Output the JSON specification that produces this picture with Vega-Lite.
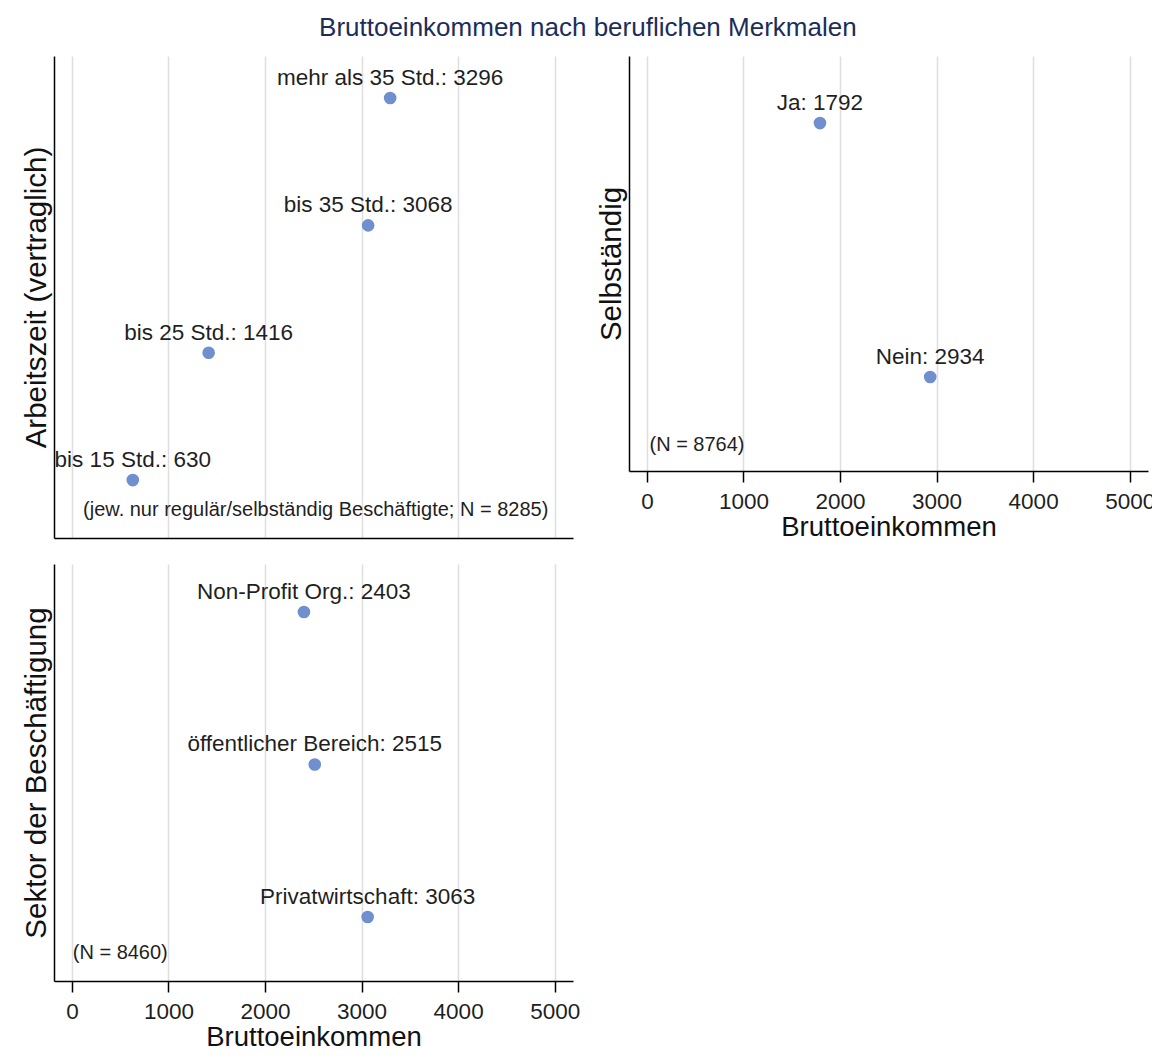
{
  "$schema": "https://vega.github.io/schema/vega-lite/v6.json",
  "background": "white",
  "padding": {"left": 21, "top": 15, "right": 0, "bottom": 0},
  "title": {"text": "Bruttoeinkommen nach beruflichen Merkmalen", "fontSize": 26, "font": "Liberation Sans", "fontWeight": "normal", "color": "#1c2d5a", "anchor": "middle", "offset": 15},
  "config": {
    "font": "Liberation Sans",
    "view": {"stroke": null},
    "axis": {"domainColor": "black", "domainWidth": 1.5, "tickColor": "black", "tickWidth": 1.5, "tickSize": 11, "labelFontSize": 22.5, "labelColor": "#1f1f1f", "labelPadding": 8, "titleFontSize": 27.5, "titleFontWeight": "normal", "titleColor": "#111111", "gridColor": "#dedede", "gridWidth": 1.5, "labelFont": "Liberation Sans", "titleFont": "Liberation Sans", "format": "d"},
    "axisY": {"titleFontSize": 29.5}
  },
  "datasets": {
    "arbeitszeit": [
      {"kategorie": "bis 15 Std.", "code": 1, "einkommen": 630},
      {"kategorie": "bis 25 Std.", "code": 2, "einkommen": 1416},
      {"kategorie": "bis 35 Std.", "code": 3, "einkommen": 3068},
      {"kategorie": "mehr als 35 Std.", "code": 4, "einkommen": 3296}
    ],
    "selbstaendig": [
      {"kategorie": "Nein", "code": 1, "einkommen": 2934},
      {"kategorie": "Ja", "code": 2, "einkommen": 1792}
    ],
    "sektor": [
      {"kategorie": "Privatwirtschaft", "code": 1, "einkommen": 3063},
      {"kategorie": "öffentlicher Bereich", "code": 2, "einkommen": 2515},
      {"kategorie": "Non-Profit Org.", "code": 3, "einkommen": 2403}
    ],
    "hinweis_arbeitszeit": [{"hinweis": "(jew. nur regulär/selbständig Beschäftigte; N = 8285)"}],
    "hinweis_selbstaendig": [{"hinweis": "(N = 8764)"}],
    "hinweis_sektor": [{"hinweis": "(N = 8460)"}]
  },
  "spacing": 23,
  "vconcat": [
    {
      "spacing": 23,
      "hconcat": [
        {
          "width": 519, "height": 482,
          "layer": [
            {"data": {"name": "arbeitszeit"},
             "mark": {"type": "point", "filled": true, "size": 160, "color": "#6f8fcf", "opacity": 1},
             "encoding": {
               "x": {"field": "einkommen", "type": "quantitative", "scale": {"domain": [-186, 5190], "nice": false, "zero": false}, "axis": {"values": [0, 1000, 2000, 3000, 4000, 5000], "grid": true, "labels": false, "ticks": false, "title": null}},
               "y": {"field": "code", "type": "quantitative", "scale": {"domain": [0.545, 4.33], "nice": false, "zero": false}, "axis": {"title": "Arbeitszeit (vertraglich)", "labels": false, "ticks": false, "grid": false, "titlePadding": 3}}
             }},
            {"data": {"name": "arbeitszeit"},
             "transform": [{"calculate": "datum.kategorie + ': ' + datum.einkommen", "as": "beschriftung"}],
             "mark": {"type": "text", "fontSize": 22.5, "dy": -13, "baseline": "alphabetic", "align": "center", "color": "#1f1f1f"},
             "encoding": {
               "x": {"field": "einkommen", "type": "quantitative"},
               "y": {"field": "code", "type": "quantitative"},
               "text": {"field": "beschriftung"}
             }},
            {"data": {"name": "hinweis_arbeitszeit"},
             "mark": {"type": "text", "fontSize": 20, "align": "left", "baseline": "middle", "color": "#1f1f1f"},
             "encoding": {"x": {"datum": 115}, "y": {"datum": 0.765}, "text": {"field": "hinweis"}}}
          ]
        },
        {
          "width": 519, "height": 415,
          "layer": [
            {"data": {"name": "selbstaendig"},
             "mark": {"type": "point", "filled": true, "size": 160, "color": "#6f8fcf", "opacity": 1},
             "encoding": {
               "x": {"field": "einkommen", "type": "quantitative", "scale": {"domain": [-186, 5190], "nice": false, "zero": false}, "axis": {"values": [0, 1000, 2000, 3000, 4000, 5000], "grid": true, "title": "Bruttoeinkommen", "titlePadding": 1}},
               "y": {"field": "code", "type": "quantitative", "scale": {"domain": [0.63, 2.264], "nice": false, "zero": false}, "axis": {"title": "Selbständig", "labels": false, "ticks": false, "grid": false, "titlePadding": 3}}
             }},
            {"data": {"name": "selbstaendig"},
             "transform": [{"calculate": "datum.kategorie + ': ' + datum.einkommen", "as": "beschriftung"}],
             "mark": {"type": "text", "fontSize": 22.5, "dy": -13, "baseline": "alphabetic", "align": "center", "color": "#1f1f1f"},
             "encoding": {
               "x": {"field": "einkommen", "type": "quantitative"},
               "y": {"field": "code", "type": "quantitative"},
               "text": {"field": "beschriftung"}
             }},
            {"data": {"name": "hinweis_selbstaendig"},
             "mark": {"type": "text", "fontSize": 20, "align": "left", "baseline": "middle", "color": "#1f1f1f"},
             "encoding": {"x": {"datum": 26}, "y": {"datum": 0.732}, "text": {"field": "hinweis"}}}
          ]
        }
      ]
    },
    {
      "width": 519, "height": 417,
      "layer": [
        {"data": {"name": "sektor"},
         "mark": {"type": "point", "filled": true, "size": 160, "color": "#6f8fcf", "opacity": 1},
         "encoding": {
           "x": {"field": "einkommen", "type": "quantitative", "scale": {"domain": [-186, 5190], "nice": false, "zero": false}, "axis": {"values": [0, 1000, 2000, 3000, 4000, 5000], "grid": true, "title": "Bruttoeinkommen", "titlePadding": 1}},
           "y": {"field": "code", "type": "quantitative", "scale": {"domain": [0.58, 3.315], "nice": false, "zero": false}, "axis": {"title": "Sektor der Beschäftigung", "labels": false, "ticks": false, "grid": false, "titlePadding": 3}}
         }},
        {"data": {"name": "sektor"},
         "transform": [{"calculate": "datum.kategorie + ': ' + datum.einkommen", "as": "beschriftung"}],
         "mark": {"type": "text", "fontSize": 22.5, "dy": -13, "baseline": "alphabetic", "align": "center", "color": "#1f1f1f"},
         "encoding": {
           "x": {"field": "einkommen", "type": "quantitative"},
           "y": {"field": "code", "type": "quantitative"},
           "text": {"field": "beschriftung"}
         }},
        {"data": {"name": "hinweis_sektor"},
         "mark": {"type": "text", "fontSize": 20, "align": "left", "baseline": "middle", "color": "#1f1f1f"},
         "encoding": {"x": {"datum": 8}, "y": {"datum": 0.764}, "text": {"field": "hinweis"}}}
      ]
    }
  ]
}
